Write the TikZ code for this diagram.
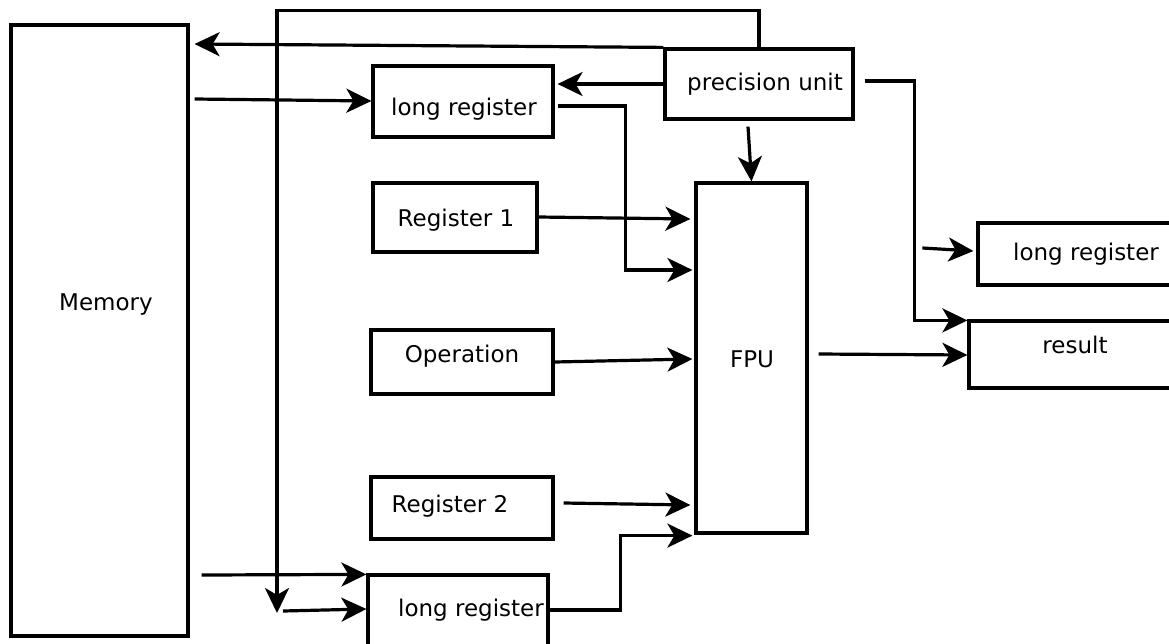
\documentclass[tikz,border=0pt]{standalone}
\usepackage{fontspec}
\setmainfont{DejaVu Sans}
\usetikzlibrary{arrows.meta,calc}
\newcommand\mybox[5]{\node[box, minimum width={#4-#2}, minimum height={#5-#3}] (#1) at ({(#2+#4)/2},{(#3+#5)/2}) {};}
\begin{document}
\begin{tikzpicture}[x=1pt,y=-1pt,
  box/.style={draw, rectangle, inner sep=0pt, line width=3.2pt},
  lbl/.style={font=\fontsize{23}{26}\selectfont, inner sep=0pt},
  arr/.style={line width=3.2pt, -{Stealth[length=25pt,width=24pt,inset=7pt]}}]
\useasboundingbox (0,0) rectangle (1169,643);
\clip (0,0) rectangle (1169,643);
\fill[white] (0,0) rectangle (1169,643);
% boxes
\mybox{mem}{11}{25}{188}{636}
\mybox{lrT}{373}{66}{553}{137}
\mybox{pu}{665}{49}{853}{119}
\mybox{rA}{373}{183}{537}{252}
\mybox{op}{371}{330}{553}{394}
\mybox{rB}{371}{477}{553}{539}
\mybox{fpu}{696}{183}{807}{533}
\mybox{lrB}{368}{575}{548}{690}
\mybox{lrR}{978}{223}{1200}{285}
\mybox{res}{969}{321}{1200}{388}
% labels
\node[lbl] (tMem) at (106,305) {Memory};
\node[lbl] (tLrT) at (464,109) {long register};
\node[lbl] (tPu) at (765,84) {precision unit};
\node[lbl] (tRA) at (456,220) {Register 1};
\node[lbl] (tOp) at (462,356) {Operation};
\node[lbl] (tRB) at (450,506) {Register 2};
\node[lbl] (tFpu) at (752,359) {FPU};
\node[lbl] (tLrB) at (471,610) {long register};
\node[lbl] (tLrR) at (1086,254) {long register};
\node[lbl] (tRes) at (1075,345) {result};
% connectors
\coordinate (loopEnd) at (277,613);
\coordinate (loopOut) at (283,611);
\draw[arr] (pu.north) -- ++(0,-37) -| (loopEnd);
\draw[arr] (loopOut) -- (lrB.west |- 0,609);
\draw[arr] (pu.west |- 0,84) -- ($(lrT.east |- 0,84)+(3,0)$);
\draw[arr] (pu.north west) -- ($(mem.east |- 0,44)+(5,0)$);
\draw[arr] ($(mem.east |- 0,99)+(5,0)$) -- (lrT.west |- 0,101);
\draw[arr] ($(lrT.east |- 0,106)+(3,0)$) -| ($(fpu.west |- 0,270)+(-69,0)$) -- ($(fpu.west |- 0,270)+(-2,0)$);
\draw[arr] (rA.east |- 0,217) -- ($(fpu.west |- 0,219)+(-4,0)$);
\draw[arr] (op.east |- 0,362) -- ($(fpu.west |- 0,359)+(-2,0)$);
\draw[arr] ($(rB.east |- 0,503)+(9,0)$) -- ($(fpu.west |- 0,505)+(-4,0)$);
\draw[arr] (lrB.east |- 0,610) -| ($(fpu.south west)+(-74,1)$) -- ($(fpu.south west)+(-2,1)$);
\draw[arr] ($(mem.east |- 0,575)+(12,0)$) -- ($(lrB.north west)+(0,1)$);
\draw[arr] ($(pu.south)+(-11,6)$) -- (fpu.north);
\draw[arr] ($(pu.east |- 0,81)+(10,0)$) -| ($(res.north west)+(-53,1)$) -- ($(res.north west)+(0,1)$);
\draw[arr] ($(lrR.west |- 0,248)+(-54,0)$) -- ($(lrR.west |- 0,251)+(-3,0)$);
\draw[arr] ($(fpu.east |- 0,354)+(10,0)$) -- (res.west |- 0,355);
\end{tikzpicture}
\end{document}
